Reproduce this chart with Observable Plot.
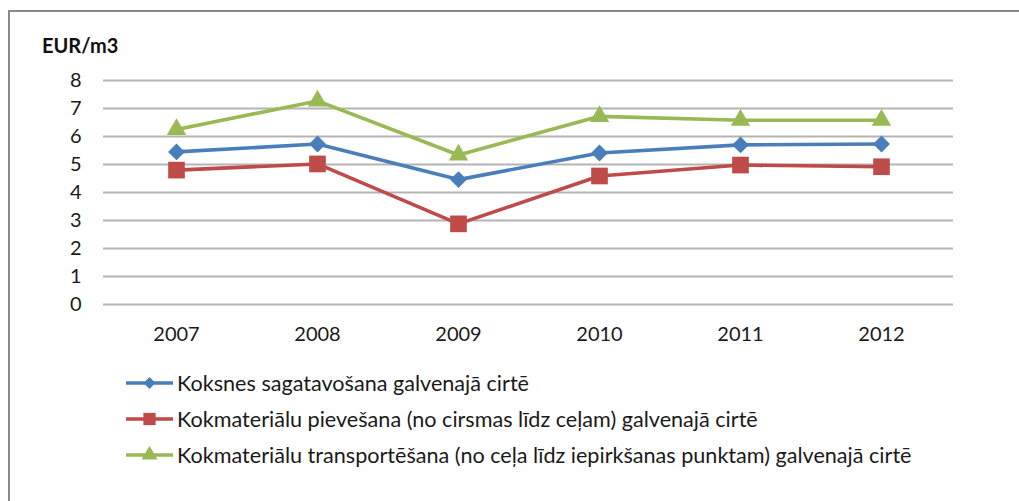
<!DOCTYPE html>
<html>
<head>
<meta charset="utf-8">
<script src="https://cdn.jsdelivr.net/npm/d3@7"></script>
<script src="https://cdn.jsdelivr.net/npm/@observablehq/plot@0.6"></script>
<style>
  html, body { margin: 0; padding: 0; background: #fff; }
  #wrap { position: relative; width: 1019px; height: 501px; overflow: hidden; font-family: Lato, "Open Sans", sans-serif; }
  #frame { position: absolute; left: 8px; top: 10px; width: 1100px; height: 600px; border-top: 2px solid #8a8a8a; border-left: 2px solid #8a8a8a; box-sizing: border-box; }
  #chart { position: absolute; left: 0; top: 0; }
  #title { position: absolute; left: 42px; top: 33px; font-weight: bold; font-size: 20px; color: #111; }
  #legend { position: absolute; left: 126px; top: 365px; }
  .row { display: flex; align-items: center; height: 36px; font-size: 21.6px; color: #1a1a1a; white-space: nowrap; }
  .row svg { margin-right: 4px; }
</style>
</head>
<body>
<div id="wrap">
  <div id="frame"></div>
  <div id="chart"></div>
  <div id="title">EUR/m3</div>
  <div id="legend"></div>
</div>
<script>
const years = ["2007", "2008", "2009", "2010", "2011", "2012"];
const yTicks = [0, 1, 2, 3, 4, 5, 6, 7, 8];
const seriesNames = [
  "Koksnes sagatavošana galvenajā cirtē",
  "Kokmateriālu pievešana (no cirsmas līdz ceļam) galvenajā cirtē",
  "Kokmateriālu transportēšana (no ceļa līdz iepirkšanas punktam) galvenajā cirtē"
];
const koksnes = [5.45, 5.73, 4.46, 5.41, 5.70, 5.73];
const pievesana = [4.80, 5.02, 2.88, 4.59, 4.98, 4.92];
const transport = [6.25, 7.27, 5.34, 6.72, 6.58, 6.58];
const colors = ["#4a7ebb", "#be4b48", "#98b954"];
const symbols = ["diamond2", "square", "triangle"];
const radii = [7.6, 9.4, 7.2];

const seriesValues = [koksnes, pievesana, transport];
const data = [];
seriesValues.forEach((vals, s) => vals.forEach((v, i) => data.push({year: years[i], value: v, series: seriesNames[s]})));

const chart = Plot.plot({
  width: 1019,
  height: 501,
  marginLeft: 103,
  marginRight: 66,
  marginTop: 80,
  marginBottom: 197,
  style: {fontFamily: "Lato, 'Open Sans', sans-serif", fontSize: "20px", color: "#1a1a1a", background: "transparent"},
  x: {type: "point", domain: years, padding: 0.5, label: null},
  y: {domain: [0, 8], label: null},
  color: {domain: seriesNames, range: colors},
  symbol: {domain: seriesNames, range: symbols},
  marks: [
    Plot.ruleY(yTicks, {stroke: "#b4b4b4", strokeWidth: 2}),
    Plot.axisY({ticks: yTicks, tickSize: 0, tickPadding: 22, label: null}),
    Plot.axisX({tickSize: 0, tickPadding: 22, label: null}),
    ...seriesNames.map((name, s) => Plot.line(data.filter(d => d.series === name), {x: "year", y: "value", stroke: "series", strokeWidth: 3.6})),
    ...seriesNames.map((name, s) => Plot.dot(data.filter(d => d.series === name), {x: "year", y: "value", symbol: "series", fill: "series", stroke: "none", r: radii[s]}))
  ]
});
document.getElementById("chart").appendChild(chart);

const legend = document.getElementById("legend");
seriesNames.forEach((name, s) => {
  const row = document.createElement("div");
  row.className = "row";
  const sw = d3.create("svg").attr("width", 47).attr("height", 20);
  sw.append("line").attr("x1", 0).attr("x2", 47).attr("y1", 10).attr("y2", 10).attr("stroke", colors[s]).attr("stroke-width", 3.6);
  const sym = s === 0 ? d3.symbolDiamond2 : s === 1 ? d3.symbolSquare : d3.symbolTriangle;
  const size = [90, 150, 110][s];
  sw.append("path").attr("transform", "translate(23.5,10)").attr("d", d3.symbol(sym, size)()).attr("fill", colors[s]);
  row.appendChild(sw.node());
  const t = document.createElement("span");
  t.textContent = name;
  row.appendChild(t);
  legend.appendChild(row);
});
</script>
</body>
</html>
